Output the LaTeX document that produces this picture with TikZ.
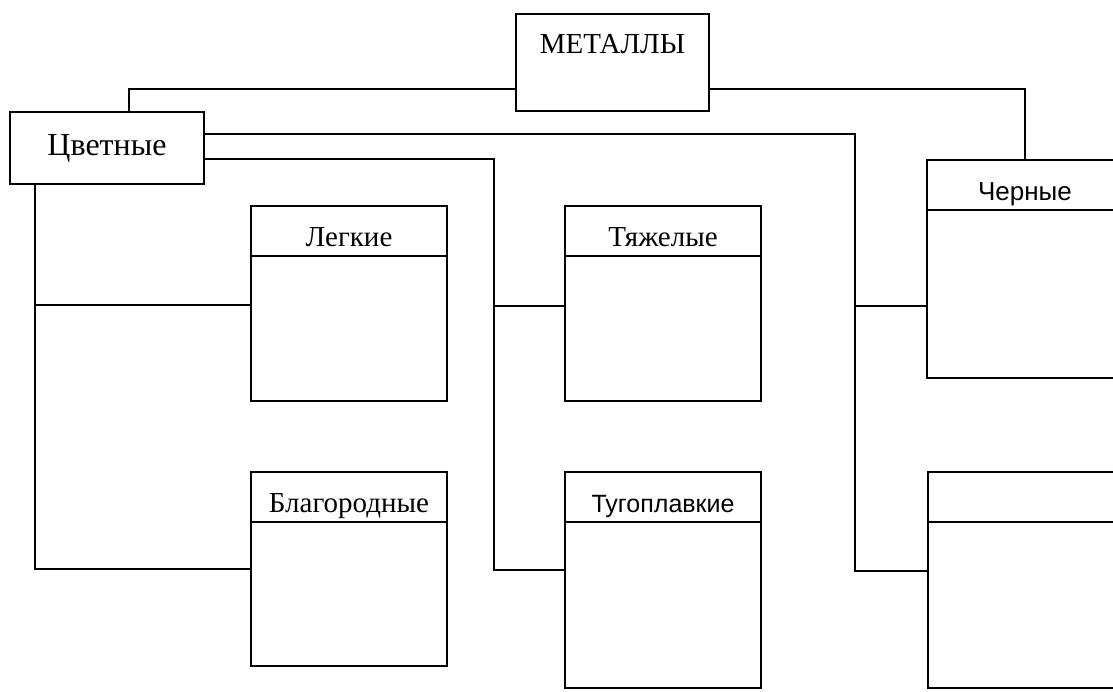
\documentclass[tikz,border=0pt]{standalone}
\usepackage{fontspec}
\setmainfont{Liberation Serif}
\newfontfamily\sansfont{Liberation Sans}
\usepackage{tikz}
\usetikzlibrary{positioning}
\tikzset{
  box/.style={draw, line width=2.8pt, inner sep=0pt, outer sep=0pt,
    font=\fontsize{29}{34}\selectfont},
  head/.style={box, minimum width=196pt, minimum height=50pt,
    text height=40pt, text depth=10pt},
  body/.style={box, minimum width=196pt},
  conn/.style={line width=2.6pt},
}

\begin{document}
\begin{tikzpicture}[x=1pt, y=-1pt]
  \useasboundingbox (0,0) rectangle (1113,691);
  \clip (0,0) rectangle (1113,691);

  \node[box, minimum width=193pt, minimum height=97pt, anchor=north west] (metally) at (516,14) {};
  \node[box, draw=none] (metallyT) at ([yshift=-30pt]metally.north) {МЕТАЛЛЫ};
  \node[box, minimum width=194pt, minimum height=72pt, anchor=north west,
    font=\fontsize{32}{38}\selectfont] (cvet) at (10,112) {Цветные};

  \node[head, anchor=north west] (leg) at (251,206) {Легкие};
  \node[body, minimum height=145pt, below=0pt of leg] (legB) {};
  \node[head, anchor=north west] (tyazh) at (565,206) {Тяжелые};
  \node[body, minimum height=145pt, below=0pt of tyazh] (tyazhB) {};
  \node[head, anchor=north west, font=\sansfont\fontsize{26}{30}\selectfont] (cher) at (927,160) {Черные};
  \node[body, minimum height=168pt, below=0pt of cher] (cherB) {};
  \node[head, anchor=north west] (blag) at (251,472) {Благородные};
  \node[body, minimum height=144pt, below=0pt of blag] (blagB) {};
  \node[head, anchor=north west, font=\sansfont\fontsize{25}{30}\selectfont] (tug) at (565,472) {Тугоплавкие};
  \node[body, minimum height=166pt, below=0pt of tug] (tugB) {};
  \node[head, anchor=north west] (niz) at (928,472) {};
  \node[body, minimum height=166pt, below=0pt of niz] (nizB) {};

  \coordinate (lb1) at (35,305);
  \coordinate (lb2) at (35,569);
  \coordinate (mb1) at (494,306);
  \coordinate (mb2) at (494,570);
  \coordinate (rb1) at (855,306);
  \coordinate (rb2) at (855,571);

  \draw[conn] ([yshift=-26.5pt]metally.west) -| ([xshift=22pt]cvet.north);
  \draw[conn] ([yshift=-26.5pt]metally.east) -| (cher.north);
  \draw[conn] ([xshift=-72pt]cvet.south) |- (blagB.west |- lb2);
  \draw[conn] (lb1) -- (legB.west |- lb1);
  \draw[conn] ([yshift=-11pt]cvet.east) -| (mb2) -- (tugB.west |- mb2);
  \draw[conn] (mb1) -- (tyazhB.west |- mb1);
  \draw[conn] ([yshift=14pt]cvet.east) -| (rb2) -- (nizB.west |- rb2);
  \draw[conn] (rb1) -- (cherB.west |- rb1);
\end{tikzpicture}
\end{document}
